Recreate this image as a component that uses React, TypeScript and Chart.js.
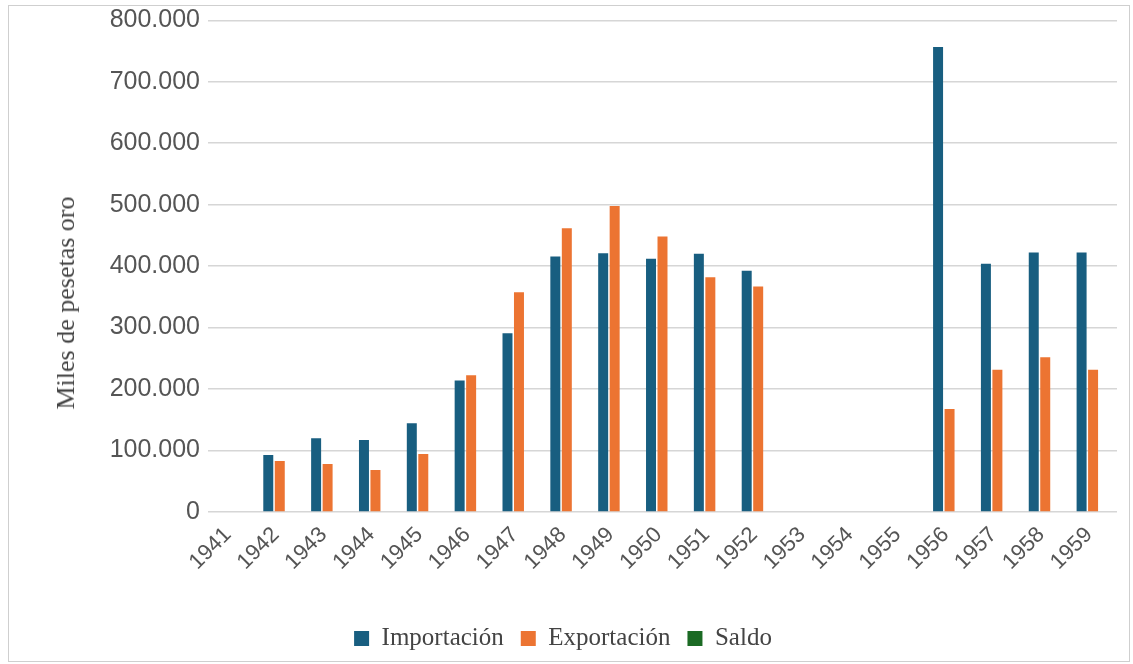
import React, { useEffect, useRef } from 'react';
import { Chart, registerables } from 'chart.js';

Chart.register(...registerables);

const years = ['1941', '1942', '1943', '1944', '1945', '1946', '1947', '1948', '1949', '1950', '1951', '1952', '1953', '1954', '1955', '1956', '1957', '1958', '1959'];
const importacion = [null, 92700, 120000, 117000, 144500, 214000, 290600, 415600, 421000, 411800, 420000, 392400, null, null, null, 756500, 403700, 422000, 422000];
const exportacion = [null, 82800, 77900, 68200, 94200, 222400, 357600, 461500, 497900, 448000, 382000, 366900, null, null, null, 167700, 231600, 251600, 231600];
const saldo = [null, null, null, null, null, null, null, null, null, null, null, null, null, null, null, null, null, null, null];
const yMin = 0;
const yMax = 800000;
const yStep = 100000;
const yTitle = 'Miles de pesetas oro';

const fmt = (v: number) => String(Math.round(v)).replace(/\B(?=(\d{3})+(?!\d))/g, '.');

export default function App() {
  const ref = useRef<HTMLCanvasElement | null>(null);
  useEffect(() => {
    if (!ref.current) return;
    const chart = new Chart(ref.current, {
      type: 'bar',
      data: {
        labels: years,
        datasets: [
          { label: 'Importación', data: importacion, backgroundColor: '#185e80' },
          { label: 'Exportación', data: exportacion, backgroundColor: '#ec7432' },
          { label: 'Saldo', data: saldo, backgroundColor: '#1b6a24' },
        ],
      },
      options: {
        animation: false,
        responsive: true,
        maintainAspectRatio: false,
        datasets: { bar: { categoryPercentage: 0.72, barPercentage: 0.87 } },
        layout: { padding: { left: 0, right: 12, top: 0, bottom: 0 } },
        plugins: {
          tooltip: { enabled: false },
          legend: {
            position: 'bottom',
            labels: {
              boxWidth: 15,
              boxHeight: 15,
              padding: 17,
              color: '#444',
              font: { family: 'Liberation Serif', size: 25 },
            },
          },
        },
        scales: {
          x: {
            grid: { display: false },
            border: { display: false },
            ticks: {
              color: '#555',
              font: { family: 'Liberation Sans', size: 22 },
              maxRotation: 45,
              minRotation: 45,
              padding: 2,
              labelOffset: -4,
            },
            afterFit: (s: any) => { s.height = 97; },
          },
          y: {
            min: yMin,
            max: yMax,
            grid: { color: '#d6d6d6', lineWidth: 1.5, drawTicks: false },
            border: { display: false },
            ticks: {
              stepSize: yStep,
              color: '#555',
              padding: 8,
              font: { family: 'Liberation Sans', size: 25, lineHeight: 0.5 },
              callback: (v: any) => fmt(Number(v)),
            },
            title: { display: false },
            afterFit: (s: any) => { s.width = 199; },
          },
        },
      },
    });
    return () => chart.destroy();
  }, []);
  return (
    <div style={{ position: 'absolute', left: 8, top: 5, width: 1122, height: 657, border: '1px solid #cfcfcf', boxSizing: 'border-box', background: '#fff' }}>
      <div style={{ position: 'relative', width: 1120, height: 655 }}>
        <canvas ref={ref} />
      </div>
      <div
        style={{
          position: 'absolute',
          left: 57,
          top: 297,
          width: 0,
          height: 0,
        }}
      >
        <div
          style={{
            position: 'absolute',
            left: 0,
            top: 0,
            transform: 'translate(-50%, -50%) rotate(-90deg)',
            whiteSpace: 'nowrap',
            fontFamily: 'Liberation Serif',
            fontSize: 26,
            lineHeight: '30px',
            color: '#444',
          }}
        >
          {yTitle}
        </div>
      </div>
    </div>
  );
}
